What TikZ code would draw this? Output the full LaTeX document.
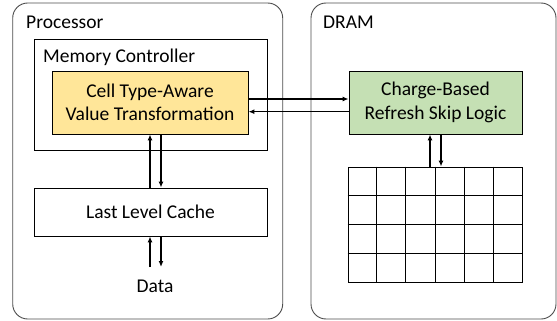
\documentclass[tikz,border=0pt]{standalone}
\usepackage{fontspec}
\setmainfont{Carlito}
\usetikzlibrary{arrows.meta, calc}

\definecolor{vtfill}{HTML}{FFE699}
\definecolor{rslfill}{HTML}{C5E0B4}
\tikzset{
	chip/.style = {draw = black!70, line width = 0.9pt, rounded corners = 15pt},
	block/.style = {draw = black, line width = 0.9pt, align = center},
	lbl/.style = {anchor = base west, inner sep = 0pt},
	link/.style = {line width = 1.2pt, -{Latex[length = 6pt, width = 5pt]}}
}

\begin{document}
\begin{tikzpicture}[x = 1pt, y = -1pt, font = \fontsize{19.5}{23.5}\selectfont]
	\useasboundingbox (0,0) rectangle (557,321);
	\node[chip, minimum width = 270pt, minimum height = 316pt](CPU) at (147.7,161){};
	\node[chip, minimum width = 245pt, minimum height = 316pt](MEM) at (433.5,161){};
	\node[lbl](CPUL) at (26,29){Processor};
	\node[lbl](MEML) at (323,29){DRAM};

	\node[block, minimum width = 233pt, minimum height = 111pt](MC) at (150.5,94.5){};
	\node[lbl](MCL) at (43,62.5){Memory Controller};
	\node[block, fill = vtfill, minimum width = 196pt, minimum height = 63pt](VT) at (150,102.5)
		{Cell Type-Aware\\Value Transformation};
	\node[block, fill = rslfill, minimum width = 173pt, minimum height = 63pt](RSL) at (435.5,102.5)
		{Charge-Based\\Refresh Skip Logic};
	\node[block, minimum width = 233pt, minimum height = 48pt](LLC) at (150.5,212){Last Level Cache};
	\node[inner sep = 0pt, anchor = base](DATA) at (155,292){Data};
	\coordinate (DT) at (155,267);
	\node[block, minimum width = 174pt, minimum height = 115pt](CELLS) at (435,224.5){};

	\foreach \i in {1,...,5}
		\draw[line width = 0.9pt] ($(CELLS.north west)!\i/6!(CELLS.north east)$) -- ($(CELLS.south west)!\i/6!(CELLS.south east)$);
	\foreach \j in {1,...,3}
		\draw[line width = 0.9pt] ($(CELLS.north west)!\j/4!(CELLS.south west)$) -- ($(CELLS.north east)!\j/4!(CELLS.south east)$);

	\draw[link] ([yshift = 3.5pt]VT.east) -- ([yshift = 3.5pt]VT.east -| RSL.west);
	\draw[link] ([yshift = -9.2pt]RSL.west) -- ([yshift = -9.2pt]RSL.west -| VT.east);
	\draw[link] (LLC.north -| VT.south) -- (VT.south);
	\draw[link] ([xshift = 11pt]VT.south) -- ([xshift = 11pt]VT.south |- LLC.north);
	\draw[link] ([xshift = -5pt]DT) -- ([xshift = -5pt]DT |- LLC.south);
	\draw[link] ([xshift = 6pt]DT |- LLC.south) -- ([xshift = 6pt]DT);
	\draw[link] ([xshift = -5.5pt]CELLS.north -| RSL.south) -- ([xshift = -5.5pt]RSL.south);
	\draw[link] ([xshift = 5.5pt]RSL.south) -- ([xshift = 5.5pt]RSL.south |- CELLS.north);
\end{tikzpicture}
\end{document}
